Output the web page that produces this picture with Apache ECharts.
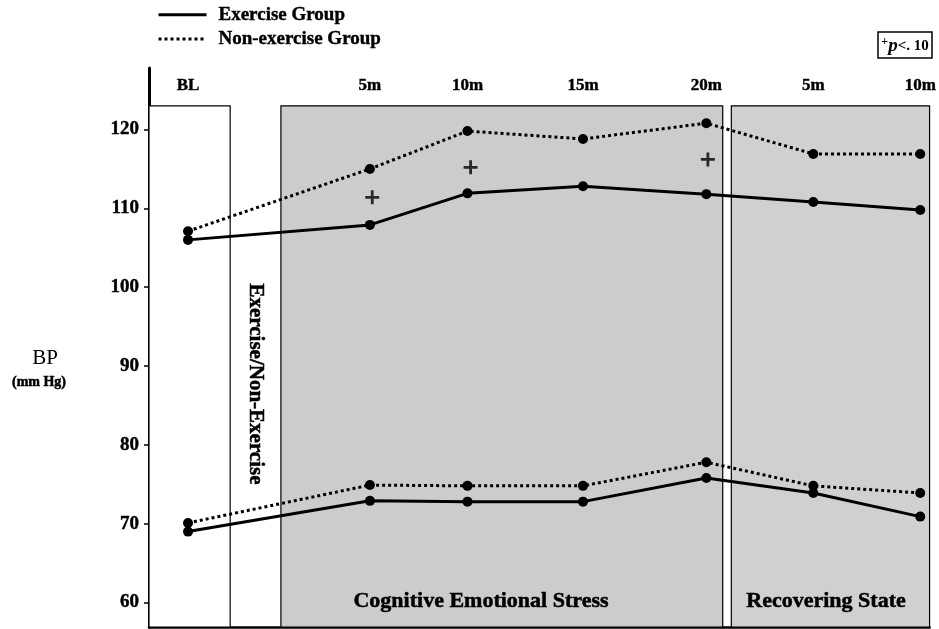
<!DOCTYPE html>
<html>
<head>
<meta charset="utf-8">
<script src="https://cdn.jsdelivr.net/npm/echarts@6/dist/echarts.min.js"></script>
<style>html,body{margin:0;background:#fff}#main{width:939px;height:629px}</style>
</head>
<body>
<div id="main"></div>
<script>
// time points (baseline, stress 5-20m, recovery 5-10m)
var timeLabels = ['BL', '5m', '10m', '15m', '20m', '5m', '10m'];
var xPos = [5.0, 28.3, 40.8, 55.6, 71.4, 85.1, 98.8];
// systolic / diastolic BP, mm Hg
var sbpExercise = [106.0, 107.9, 111.9, 112.8, 111.8, 110.8, 109.8];
var sbpNonExercise = [107.1, 115.0, 119.8, 118.8, 120.8, 116.9, 116.9];
var dbpExercise = [69.0, 72.9, 72.8, 72.8, 75.8, 73.9, 70.9];
var dbpNonExercise = [70.1, 74.9, 74.8, 74.8, 77.8, 74.8, 73.9];
// "+" p<.10 marks
var sigX = [28.6, 41.2, 71.6];
var sigY = [111.4, 115.2, 116.2];
var yTicks = [60, 70, 80, 90, 100, 110, 120];
// phase boxes [xStart, xEnd]
var boxBaseline = [0, 10.4];
var boxStress = [16.9, 73.5];
var boxRecovery = [74.6, 100];
var boxTop = 123;

var yMin = 56.9, yMax = 127.8;
var serif = '"Liberation Serif", "DejaVu Serif", serif';

function pairs(arr) {
    return xPos.map(function (x, i) { return [x, arr[i]]; });
}

function box(range, fill) {
    return [
        {xAxis: range[0], yAxis: yMin, itemStyle: {color: fill, borderColor: '#000', borderWidth: 1.2}},
        {xAxis: range[1], yAxis: boxTop}
    ];
}

var myChart = echarts.init(document.getElementById('main'));

var solidLine = {color: '#000', width: 3, type: 'solid'};
var dotLine = {color: '#000', width: 3, type: [3, 3]};

function lineSeries(name, arr, ls) {
    return {
        name: name,
        type: 'line',
        data: pairs(arr),
        symbol: 'circle',
        symbolSize: 10,
        itemStyle: {color: '#000'},
        lineStyle: ls,
        z: 5
    };
}

function bigText(x, y, text, size, rot) {
    return {
        type: 'text', x: x, y: y, rotation: rot || 0, z: 10,
        style: {
            text: text, font: 'bold ' + size + 'px ' + serif, fill: '#000',
            stroke: '#000', lineWidth: 0.5,
            align: 'center', verticalAlign: 'middle'
        }
    };
}

var option = {
    animation: false,
    backgroundColor: '#fff',
    grid: {left: 149, right: 9, top: 68, bottom: 2},
    legend: {
        orient: 'vertical',
        left: 152,
        top: 0,
        itemWidth: 48,
        itemHeight: 14,
        itemGap: 5,
        data: ['Exercise Group', 'Non-exercise Group'],
        itemStyle: {opacity: 0},
        lineStyle: {width: 3},
        textStyle: {
            fontFamily: serif, fontWeight: 'bold', fontSize: 19, color: '#000',
            textBorderColor: '#000', textBorderWidth: 0.4, padding: [0, 0, 0, 7]
        }
    },
    xAxis: [
        {
            type: 'value', min: 0, max: 100,
            axisLine: {show: true, lineStyle: {color: '#000', width: 2.5}},
            axisTick: {show: false},
            axisLabel: {show: false},
            splitLine: {show: false}
        },
        {
            type: 'value', min: 0, max: 100, position: 'top',
            axisLine: {show: false},
            axisTick: {show: false},
            splitLine: {show: false},
            axisLabel: {
                inside: true,
                margin: 9,
                customValues: xPos,
                fontFamily: serif, fontWeight: 'bold', fontSize: 17, color: '#000',
                textBorderColor: '#000', textBorderWidth: 0.4,
                formatter: function (v) {
                    var i = xPos.indexOf(v);
                    return i >= 0 ? timeLabels[i] : '';
                }
            }
        }
    ],
    yAxis: {
        type: 'value', min: yMin, max: yMax,
        axisLine: {show: true, lineStyle: {color: '#000', width: 3}},
        axisTick: {show: true, length: 5, customValues: yTicks, lineStyle: {color: '#000', width: 1.5}},
        axisLabel: {
            customValues: yTicks, margin: 10,
            fontFamily: serif, fontWeight: 'bold', fontSize: 19, color: '#000',
            textBorderColor: '#000', textBorderWidth: 0.4
        },
        splitLine: {show: false}
    },
    series: [
        {
            type: 'line', data: [], z: 1,
            markArea: {
                silent: true,
                data: [box(boxBaseline, '#fff'), box(boxStress, '#cccccc'), box(boxRecovery, '#d0d0d0')]
            }
        },
        lineSeries('Exercise Group', sbpExercise, solidLine),
        lineSeries('Non-exercise Group', sbpNonExercise, dotLine),
        lineSeries('Exercise Group', dbpExercise, solidLine),
        lineSeries('Non-exercise Group', dbpNonExercise, dotLine),
        {
            type: 'scatter',
            data: sigX.map(function (x, i) { return [x, sigY[i]]; }),
            symbol: 'path://M4,0 L6,0 L6,4 L10,4 L10,6 L6,6 L6,10 L4,10 L4,6 L0,6 L0,4 L4,4 Z',
            symbolSize: 14,
            itemStyle: {color: '#000'},
            z: 6
        }
    ],
    graphic: [
        {
            type: 'text', x: 45, y: 358,
            style: {text: 'BP', font: '21px ' + serif, fill: '#000', align: 'center', verticalAlign: 'middle'}
        },
        bigText(39, 382, '(mm Hg)', 14),
        bigText(255, 384, 'Exercise/Non-Exercise', 21, -Math.PI / 2),
        bigText(481, 601, 'Cognitive Emotional Stress', 22),
        bigText(826, 601, 'Recovering State', 22),
        {
            type: 'rect', shape: {x: 878, y: 32, width: 54, height: 26},
            style: {fill: '#fff', stroke: '#000', lineWidth: 1.5}
        },
        {
            type: 'text', x: 905, y: 46, z: 10,
            style: {
                text: '{s|+}{p|p}{n|<. 10}',
                align: 'center', verticalAlign: 'middle',
                rich: {
                    s: {font: 'bold 12px ' + serif, fill: '#000', verticalAlign: 'top', padding: [0, 0, 8, 0]},
                    p: {font: 'italic bold 19px ' + serif, fill: '#000'},
                    n: {font: 'bold 15px ' + serif, fill: '#000'}
                }
            }
        }
    ]
};

myChart.setOption(option);
</script>
</body>
</html>
